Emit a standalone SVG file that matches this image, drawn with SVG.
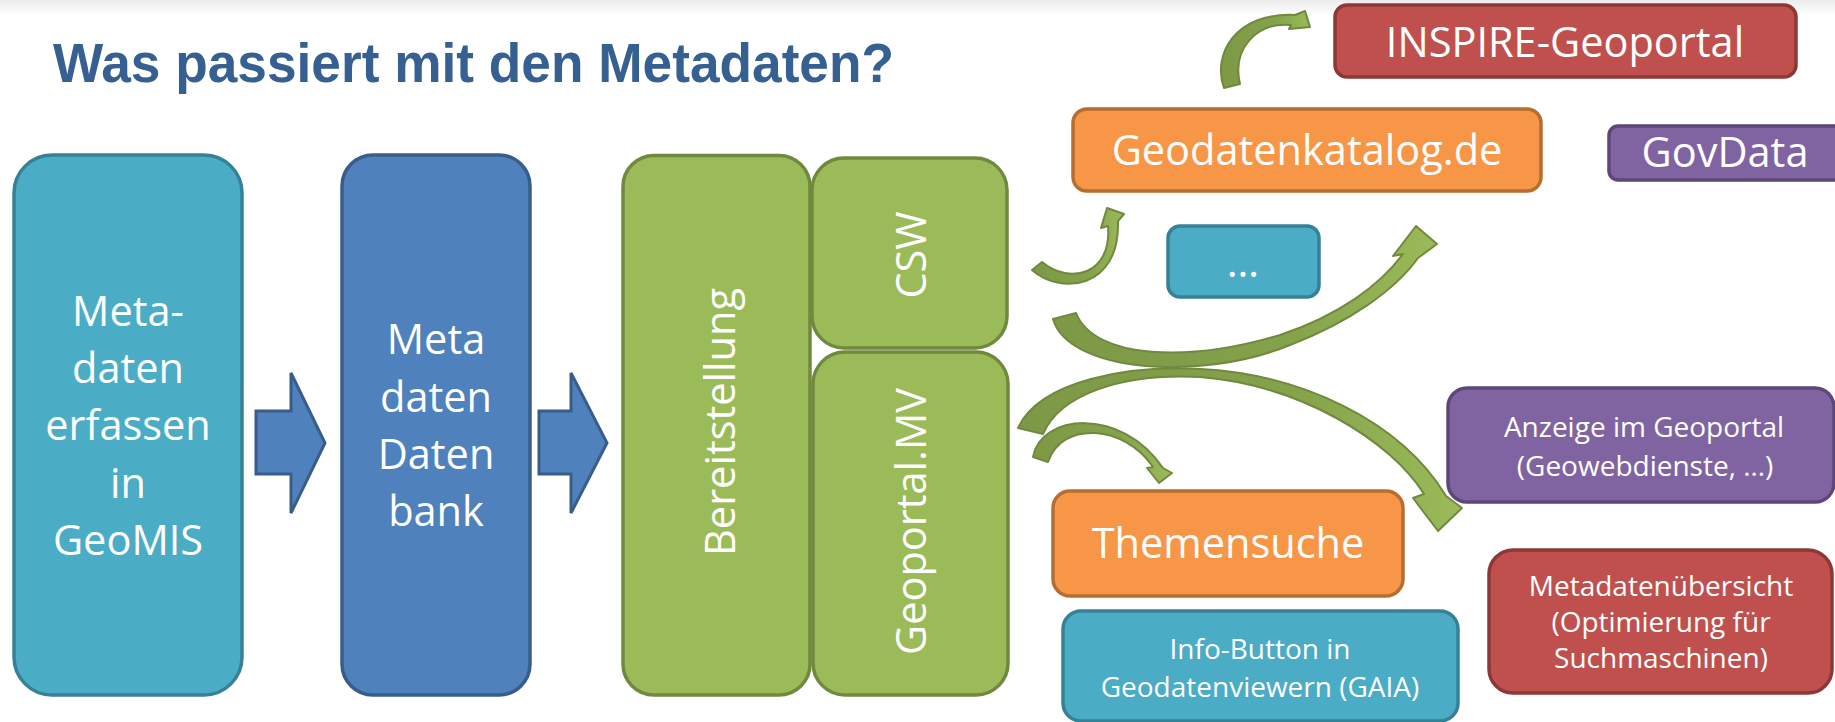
<svg xmlns="http://www.w3.org/2000/svg" width="1835" height="722" viewBox="0 0 1835 722">
<defs>
<style>
.t{font-family:"Open Sans","Noto Sans","DejaVu Sans",sans-serif;fill:#FFFFFF;text-anchor:middle}
.big{font-size:41.5px}
.sm{font-size:28px}
.aqua{fill:#4BACC6;stroke:#368196;stroke-width:3.5}
.blue{fill:#4F81BD;stroke:#385D8A;stroke-width:3.5}
.green{fill:#9BBB59;stroke:#71893F;stroke-width:3.5}
.orange{fill:#F79646;stroke:#B66D31;stroke-width:3.5}
.red{fill:#C0504D;stroke:#8C3836;stroke-width:3.5}
.purple{fill:#8064A2;stroke:#5C4776;stroke-width:3.5}
.blk{fill:#4F81BD;stroke:#385D8A;stroke-width:3;stroke-linejoin:miter}
.carr{fill:url(#ga);stroke:#71893F;stroke-width:2;stroke-linejoin:round}
</style>
<linearGradient id="top" x1="0" y1="0" x2="0" y2="1">
<stop offset="0" stop-color="#ECECEC"/>
<stop offset="1" stop-color="#FFFFFF"/>
</linearGradient>
<linearGradient id="ga" x1="0" y1="0" x2="1" y2="0">
<stop offset="0" stop-color="#7D9946"/>
<stop offset="0.6" stop-color="#84A14B"/>
<stop offset="1" stop-color="#9BBB59"/>
</linearGradient>
</defs>
<rect x="0" y="0" width="1835" height="722" fill="#FFFFFF"/>
<rect x="0" y="0" width="1835" height="16" fill="url(#top)"/>
<text id="title" x="53" y="82" font-family="'Liberation Sans',Arial,sans-serif" font-weight="bold" font-size="55" fill="#376092" textLength="841" lengthAdjust="spacingAndGlyphs">Was passiert mit den Metadaten?</text>

<g id="node-erfassen">
<rect class="aqua" x="14" y="155" width="228" height="540" rx="38"/>
<text class="t big" x="128" y="326">Meta-</text>
<text class="t big" x="128" y="383">daten</text>
<text class="t big" x="128" y="440">erfassen</text>
<text class="t big" x="128" y="498">in</text>
<text class="t big" x="128" y="555">GeoMIS</text>
</g>
<g id="node-datenbank">
<rect class="blue" x="342" y="155" width="188" height="540" rx="31"/>
<text class="t big" x="436" y="354">Meta</text>
<text class="t big" x="436" y="412">daten</text>
<text class="t big" x="436" y="469">Daten</text>
<text class="t big" x="436" y="526">bank</text>
</g>
<g id="node-bereitstellung">
<rect class="green" x="623" y="155.5" width="187" height="539.5" rx="31"/>
<text class="t big" transform="translate(734.5,422) rotate(-90)">Bereitstellung</text>
</g>
<g id="node-csw">
<rect class="green" x="812" y="158" width="195" height="190" rx="32"/>
<text class="t big" transform="translate(926,255) rotate(-90)">CSW</text>
</g>
<g id="node-geoportalmv">
<rect class="green" x="813" y="352" width="195" height="343" rx="32"/>
<text class="t big" transform="translate(926,521.5) rotate(-90)">Geoportal.MV</text>
</g>
<g id="node-inspire">
<rect class="red" x="1335" y="5" width="461" height="72" rx="12"/>
<text class="t big" x="1565" y="57">INSPIRE-Geoportal</text>
</g>
<g id="node-geodatenkatalog">
<rect class="orange" x="1073" y="109" width="468" height="82" rx="14"/>
<text class="t big" x="1307" y="165">Geodatenkatalog.de</text>
</g>
<g id="node-govdata">
<rect class="purple" x="1609" y="126" width="240" height="54" rx="9"/>
<text class="t big" x="1725" y="167">GovData</text>
</g>
<g id="node-dots">
<rect class="aqua" x="1168" y="226" width="151" height="71" rx="12"/>
<text class="t big" x="1243" y="277">…</text>
</g>
<g id="node-anzeige">
<rect class="purple" x="1448" y="388" width="386" height="114" rx="19"/>
<text class="t sm" x="1644" y="437">Anzeige im Geoportal</text>
<text class="t sm" x="1645" y="476">(Geowebdienste, …)</text>
</g>
<g id="node-themensuche">
<rect class="orange" x="1053" y="491" width="350" height="105" rx="17"/>
<text class="t big" x="1228" y="558">Themensuche</text>
</g>
<g id="node-info">
<rect class="aqua" x="1063" y="611" width="395" height="110" rx="18"/>
<text class="t sm" x="1260" y="659">Info-Button in</text>
<text class="t sm" x="1260" y="697">Geodatenviewern (GAIA)</text>
</g>
<g id="node-metadatenuebersicht">
<rect class="red" x="1489" y="550" width="343" height="143" rx="24"/>
<text class="t sm" x="1661" y="596">Metadatenübersicht</text>
<text class="t sm" x="1661" y="632">(Optimierung für</text>
<text class="t sm" x="1661" y="668">Suchmaschinen)</text>
</g>

<g id="connectors">
<path class="blk" d="M256,411 H291 V373 L325,443 L291,513 V474 H256 Z"/>
<path class="blk" d="M539,411 H571 V373 L607,443 L571,513 V474 H539 Z"/>
<path class="carr" d="M1224,88 C1212,55 1235,12 1295,15 L1305,11 L1310,27 L1289,29 L1291,25 C1255,22 1232,50 1240,84 Z"/>
<path class="carr" d="M1032,270 C1060,295 1120,290 1118,221 L1124,214 L1107,208 L1101,228 L1108,226 C1112,275 1070,285 1042,262 Z"/>
<path class="carr" d="M1053,319 C1068,372 1200,382 1290,345 C1350,322 1395,290 1418,258 L1437,244 L1416,226 L1393,256 L1403,254 C1380,285 1340,315 1280,335 C1190,362 1095,360 1076,313 Z"/>
<path class="carr" d="M1018,428 C1040,380 1130,365 1200,369 C1300,374 1400,420 1446,496 L1462,508 L1438,531 L1413,498 L1424,494 C1390,440 1300,385 1200,377 C1120,373 1060,395 1043,434 Z"/>
<path class="carr" d="M1033,457 C1040,415 1120,405 1163,468 L1172,473 L1159,483 L1147,468 L1153,467 C1125,425 1062,420 1048,462 Z"/>
</g>
</svg>
